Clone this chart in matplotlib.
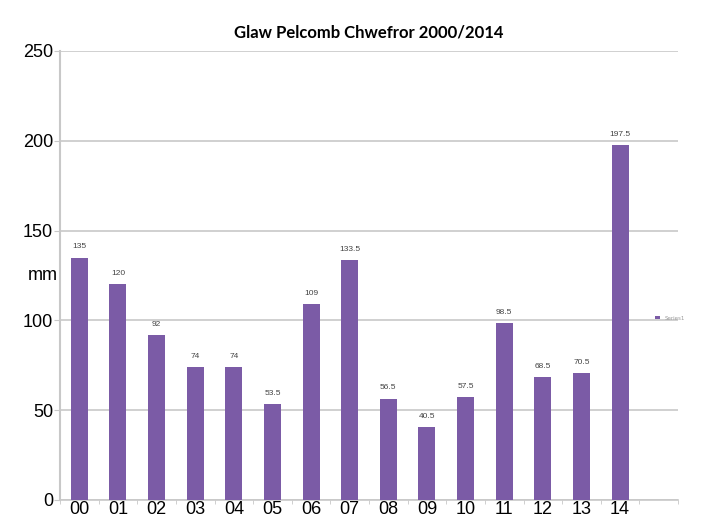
import matplotlib
matplotlib.use("Agg")
import matplotlib.pyplot as plt
import numpy as np

# Rainfall data, February 2000-2014
years = ["00", "01", "02", "03", "04", "05", "06", "07",
         "08", "09", "10", "11", "12", "13", "14"]
rain_mm = [135, 120, 92, 74, 74, 53.5, 109, 133.5,
           56.5, 40.5, 57.5, 98.5, 68.5, 70.5, 197.5]
value_labels = ["135", "120", "92", "74", "74", "53.5", "109", "133.5",
                "56.5", "40.5", "57.5", "98.5", "68.5", "70.5", "197.5"]
yticks = [0, 50, 100, 150, 200, 250]

BAR = "#7b5ba6"
GRID = "#c8c8c8"

fig = plt.figure(figsize=(7.1, 5.2), dpi=100)
ax = fig.add_axes([0.0845, 0.0385, 0.8705, 0.8635])

x = np.arange(len(years))
bars = ax.bar(x, rain_mm, width=0.44, color=BAR, zorder=3, label="Series1")
for xi, v, lab in zip(x, rain_mm, value_labels):
    ax.text(xi, v + 4, lab, ha="center", va="bottom", fontsize=6,
            color="#444444", family="Liberation Sans")

ax.set_xlim(-0.5, 15.5)
ax.set_ylim(0, 250)
ax.set_yticks(yticks)
ax.set_yticklabels([str(t) for t in yticks], family="Liberation Sans", fontsize=13)
ax.set_xticks(x)
ax.set_xticklabels(years, family="Liberation Sans", fontsize=13)
ax.tick_params(axis="x", length=0, pad=1)
ax.tick_params(axis="y", length=4, color=GRID, pad=1)
ax.set_xticks(np.arange(-0.5, 16.0, 1.0), minor=True)
ax.tick_params(axis="x", which="minor", length=3, color=GRID)

ax.grid(axis="y", color=GRID, lw=1.2, zorder=0)
for s in ["top", "right"]:
    ax.spines[s].set_visible(False)
ax.spines["left"].set_color(GRID)
ax.spines["left"].set_linewidth(1.5)
ax.spines["bottom"].set_color(GRID)
ax.spines["bottom"].set_linewidth(1.2)

ax.text(-0.052, 125, "mm", transform=ax.get_yaxis_transform(), ha="left",
        va="center", fontsize=13, family="Liberation Sans")

ax.set_title("Glaw Pelcomb Chwefror 2000/2014", fontsize=12, fontweight="bold",
             family="Lato", pad=10)

ax.legend(loc="center left", bbox_to_anchor=(0.955, 0.405), frameon=False,
          fontsize=4, handlelength=0.8, handleheight=0.6, labelcolor="#999999")

fig.savefig("out.png", dpi=100)
